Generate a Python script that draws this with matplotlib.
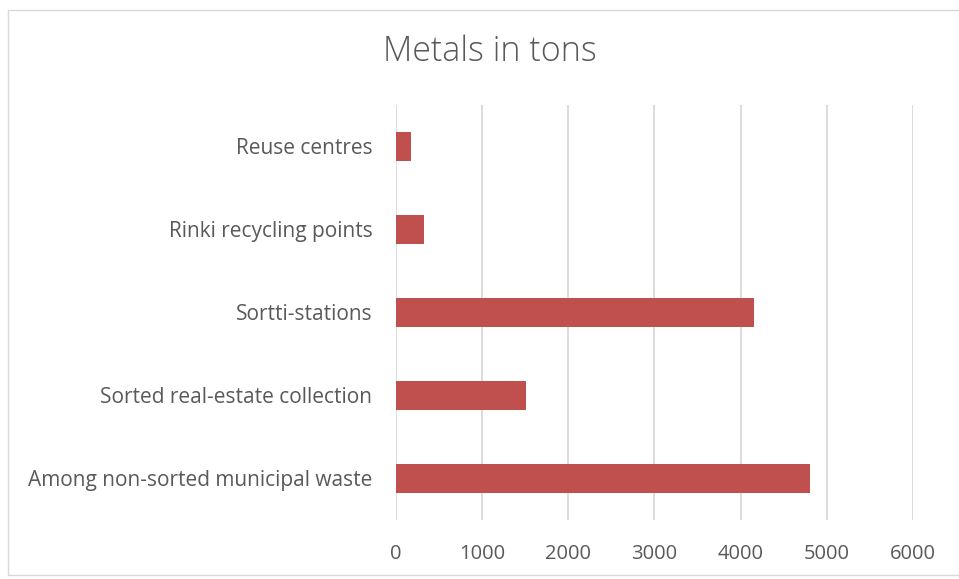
import matplotlib.pyplot as plt
from matplotlib.patches import Rectangle

# data, bottom to top
categories = ["Among non-sorted municipal waste", "Sorted real-estate collection",
              "Sortti-stations", "Rinki recycling points", "Reuse centres"]
tons = [4800, 1505, 4160, 320, 180]
xticks = [0, 1000, 2000, 3000, 4000, 5000, 6000]

plt.rcParams['font.family'] = ['Open Sans', 'DejaVu Sans']

fig = plt.figure(figsize=(9.59, 5.79), dpi=100)
ax = fig.add_axes([0.4129, 0.1019, 0.5391, 0.7168])

ax.barh(range(len(categories)), tons, height=0.35, color='#C0504D', zorder=3)
ax.set_xlim(0, 6000)
ax.set_ylim(-0.5, len(categories) - 0.5)
ax.set_xticks(xticks)
ax.set_yticks(range(len(categories)))
ax.set_yticklabels(categories)
ax.grid(axis='x', color='#D9D9D9', linewidth=1.3, zorder=0)
for s in ax.spines.values():
    s.set_visible(False)
ax.tick_params(axis='y', length=0, labelsize=15, labelcolor='#595959', pad=17)
ax.tick_params(axis='x', length=0, labelsize=14.5, labelcolor='#595959', pad=17)

fig.text(0.5105, 0.91, "Metals in tons", ha='center', va='center',
         fontsize=24.5, color='#595959', fontweight='light')

# chart border
fig.patches.append(Rectangle((8 / 959, 4 / 579), 960 / 959, 565 / 579,
                             transform=fig.transFigure, fill=False,
                             edgecolor='#D9D9D9', linewidth=1))

fig.savefig('out.png', dpi=100)
